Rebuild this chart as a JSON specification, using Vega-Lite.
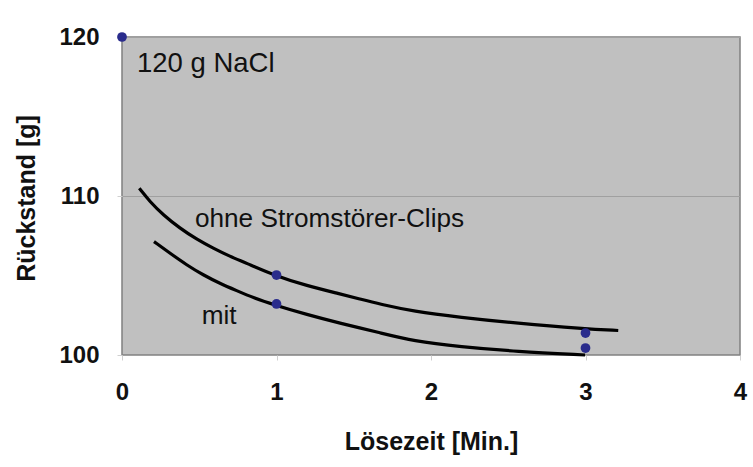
{
  "$schema": "https://vega.github.io/schema/vega-lite/v6.json",
  "autosize": "none",
  "width": 618,
  "height": 318,
  "padding": {"left": 122, "top": 37, "right": 13, "bottom": 112},
  "background": "white",
  "config": {
    "view": {"fill": "#c0c0c0", "stroke": "#808080", "strokeWidth": 1.5},
    "font": "Liberation Sans"
  },
  "datasets": {
    "curves": [
      {"serie": "ohne", "t": 0.112, "r": 110.48},
      {"serie": "ohne", "t": 0.181, "r": 109.64},
      {"serie": "ohne", "t": 0.267, "r": 108.81},
      {"serie": "ohne", "t": 0.375, "r": 107.97},
      {"serie": "ohne", "t": 0.483, "r": 107.28},
      {"serie": "ohne", "t": 0.591, "r": 106.71},
      {"serie": "ohne", "t": 0.699, "r": 106.2},
      {"serie": "ohne", "t": 0.8, "r": 105.8},
      {"serie": "ohne", "t": 0.99, "r": 104.99},
      {"serie": "ohne", "t": 1.195, "r": 104.36},
      {"serie": "ohne", "t": 1.411, "r": 103.84},
      {"serie": "ohne", "t": 1.54, "r": 103.52},
      {"serie": "ohne", "t": 1.67, "r": 103.2},
      {"serie": "ohne", "t": 1.885, "r": 102.75},
      {"serie": "ohne", "t": 2.188, "r": 102.37},
      {"serie": "ohne", "t": 2.555, "r": 102.0},
      {"serie": "ohne", "t": 2.986, "r": 101.65},
      {"serie": "ohne", "t": 3.212, "r": 101.54},
      {"serie": "mit", "t": 0.207, "r": 107.13},
      {"serie": "mit", "t": 0.311, "r": 106.4},
      {"serie": "mit", "t": 0.419, "r": 105.66},
      {"serie": "mit", "t": 0.526, "r": 105.03},
      {"serie": "mit", "t": 0.634, "r": 104.5},
      {"serie": "mit", "t": 0.742, "r": 104.05},
      {"serie": "mit", "t": 0.85, "r": 103.6},
      {"serie": "mit", "t": 0.99, "r": 103.14},
      {"serie": "mit", "t": 1.195, "r": 102.55},
      {"serie": "mit", "t": 1.411, "r": 102.0},
      {"serie": "mit", "t": 1.67, "r": 101.4},
      {"serie": "mit", "t": 1.885, "r": 100.88},
      {"serie": "mit", "t": 2.188, "r": 100.52},
      {"serie": "mit", "t": 2.555, "r": 100.22},
      {"serie": "mit", "t": 2.997, "r": 100.0}
    ],
    "points": [
      {"t": 0, "r": 120},
      {"t": 1, "r": 105.03},
      {"t": 1, "r": 103.21},
      {"t": 3, "r": 101.38},
      {"t": 3, "r": 100.44}
    ],
    "labels": [
      {"label": "120 g NaCl", "t": 0.097, "r": 117.8},
      {"label": "ohne Stromstörer-Clips", "t": 0.472, "r": 108.07},
      {"label": "mit", "t": 0.516, "r": 101.95}
    ]
  },
  "encoding": {
    "x": {
      "field": "t", "type": "quantitative",
      "scale": {"domain": [0, 4], "nice": false, "zero": false},
      "axis": {
        "title": "Lösezeit [Min.]",
        "values": [0, 1, 2, 3, 4],
        "format": "d",
        "grid": false,
        "domain": false,
        "tickColor": "#d0d0d0",
        "tickSize": 5,
        "labelFont": "Liberation Sans",
        "labelFontWeight": "bold",
        "labelFontSize": 24,
        "labelColor": "#111111",
        "labelPadding": 20,
        "labelFlush": false,
        "titleFont": "Liberation Sans",
        "titleFontWeight": "bold",
        "titleFontSize": 25,
        "titleColor": "#111111",
        "titleX": 309,
        "titleY": 86,
        "titleBaseline": "middle"
      }
    },
    "y": {
      "field": "r", "type": "quantitative",
      "scale": {"domain": [100, 120], "nice": false, "zero": false},
      "axis": {
        "title": "Rückstand [g]",
        "values": [100, 110, 120],
        "grid": true,
        "gridColor": "#a0a0a0",
        "gridWidth": 1,
        "domain": false,
        "tickColor": "#d0d0d0",
        "tickSize": 5,
        "labelFont": "Liberation Sans",
        "labelFontWeight": "bold",
        "labelFontSize": 24,
        "labelColor": "#111111",
        "labelPadding": 18,
        "labelFlush": false,
        "titleFont": "Liberation Sans",
        "titleFontWeight": "bold",
        "titleFontSize": 25,
        "titleColor": "#111111",
        "titleAngle": -90,
        "titleX": -96,
        "titleY": 161,
        "titleAlign": "center",
        "titleBaseline": "middle"
      }
    }
  },
  "layer": [
    {
      "data": {"name": "curves"},
      "mark": {"type": "line", "color": "black", "strokeWidth": 3.2, "interpolate": "basis", "clip": false},
      "encoding": {"detail": {"field": "serie"}}
    },
    {
      "data": {"name": "points"},
      "mark": {"type": "circle", "color": "#2a2c8c", "opacity": 1, "size": 95, "clip": false}
    },
    {
      "data": {"name": "labels"},
      "transform": [{"filter": "datum.label === '120 g NaCl'"}],
      "mark": {"type": "text", "align": "left", "baseline": "alphabetic", "fontSize": 27.5, "font": "Liberation Sans", "color": "#111111"},
      "encoding": {"text": {"field": "label"}}
    },
    {
      "data": {"name": "labels"},
      "transform": [{"filter": "datum.label !== '120 g NaCl'"}],
      "mark": {"type": "text", "align": "left", "baseline": "alphabetic", "fontSize": 26.2, "font": "Liberation Sans", "color": "#111111"},
      "encoding": {"text": {"field": "label"}}
    }
  ]
}
